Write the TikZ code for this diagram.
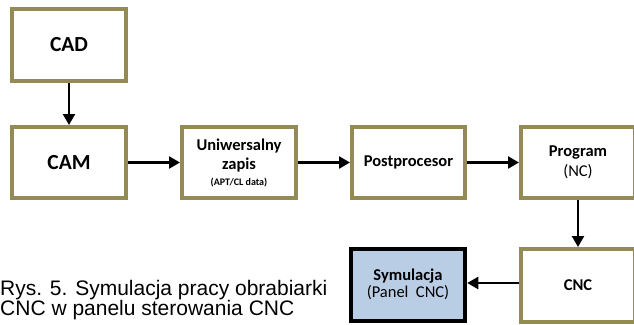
\documentclass[tikz,border=0pt]{standalone}
\usepackage{fontspec}
\setmainfont{Carlito}
\newfontfamily\capfont{Liberation Sans}
\usetikzlibrary{arrows.meta}
\definecolor{boxline}{HTML}{948A54}
\definecolor{simfill}{HTML}{B9CDE5}
\tikzset{
  blk/.style={draw=boxline, line width=4pt, fill=white, inner sep=0pt,
    minimum width=114pt, minimum height=72pt, align=center,
    font=\fontsize{16.5}{20}\selectfont\bfseries},
  bigblk/.style={blk, font=\fontsize{21.5}{24}\selectfont\bfseries},
  simblk/.style={blk, draw=black, line width=4.5pt, fill=simfill},
  conn/.style={line width=2.4pt, -{Triangle[length=11pt,width=12pt]}},
  captxt/.style={anchor=base west, inner sep=0pt, font=\capfont\fontsize{21}{20}\selectfont}
}
\begin{document}
\begin{tikzpicture}[x=1pt,y=-1pt]
\useasboundingbox (0,0) rectangle (634,324);
\node[bigblk] (cad) at (69,45) {CAD};
\node[bigblk, minimum height=71pt] (cam) at (69,162.5) {CAM};
\node[blk, minimum height=71pt] (uni) at (239,162.5) {Uniwersalny\\[-1pt] zapis\\[-4pt] {\fontsize{10}{11}\selectfont (APT/CL data)}};
\node[blk, minimum width=113pt, minimum height=71pt] (post) at (408.5,162.5) {Postprocesor};
\node[blk, minimum height=71pt] (prog) at (578,162.5) {\raisebox{-4pt}{Program}\\[0pt] \mdseries\raisebox{-4pt}{(NC)}};
\node[blk, minimum height=73pt] (cnc) at (578,285.5) {CNC};
\node[simblk, minimum height=72pt] (sim) at (408,285) {\raisebox{4pt}{Symulacja}\\[-3pt] \mdseries\raisebox{4pt}{(Panel\ \ CNC)}};
\draw[conn] (cad) -- (cam);
\draw[conn] (cam) -- (uni);
\draw[conn] (uni) -- (post);
\draw[conn] (post) -- (prog);
\draw[conn] (prog) -- (cnc);
\draw[conn] (cnc.west |- 0,283) -- (sim.east |- 0,283);
\node[captxt] (cap1) at (0,295) {Rys. 5. Symulacja pracy obrabiarki};
\node[captxt] (cap2) at (0,315) {CNC w panelu sterowania CNC};
\end{tikzpicture}
\end{document}
